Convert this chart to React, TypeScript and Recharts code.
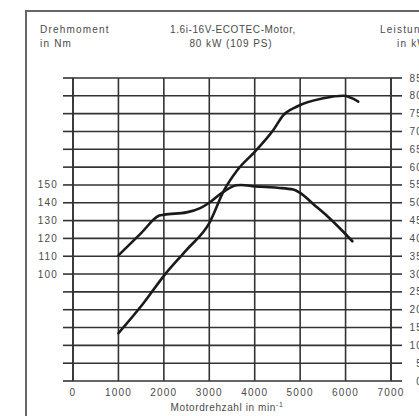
import React from "react";
import {
  ComposedChart,
  Line,
  XAxis,
  YAxis,
  CartesianGrid,
} from "recharts";

// Drehmoment (Nm) über Motordrehzahl
const torqueRpm = [1000, 1500, 1900, 2000, 2500, 2800, 3000, 3300, 3600, 3700, 4000, 4500, 4850, 5000, 5300, 5600, 5900, 6150];
const torqueNm = [110.5, 123, 132.8, 133.3, 134.6, 137, 140, 146, 149.8, 150, 149.2, 148.4, 147.4, 145.5, 139, 132.4, 125, 118.4];

// Leistung (kW) über Motordrehzahl
const powerRpm = [1000, 1550, 2000, 2500, 3000, 3330, 3620, 4000, 4410, 4630, 4930, 5510, 5950, 6280];
const powerKw = [13.4, 21.8, 29.5, 36.8, 44.3, 53.6, 59.2, 64.3, 70.4, 74.6, 77, 79.3, 80, 78.4];

const rpmTicks = [0, 1000, 2000, 3000, 4000, 5000, 6000, 7000];
const nmTicks = [40, 50, 60, 70, 80, 90, 100, 110, 120, 130, 140, 150, 160, 170, 180, 190, 200, 210];
const nmLabelled = [100, 110, 120, 130, 140, 150];
const kwTicks = [0, 5, 10, 15, 20, 25, 30, 35, 40, 45, 50, 55, 60, 65, 70, 75, 80, 85];

const torqueData = torqueRpm.map((rpm, i) => ({ rpm, nm: torqueNm[i] }));
const powerData = powerRpm.map((rpm, i) => ({ rpm, kw: powerKw[i] }));

const FONT = "'Liberation Sans', Arial, sans-serif";
const TEXT = "#4a4a4a";
const GRID = "#333";

const textStyle: React.CSSProperties = {
  position: "absolute",
  fontFamily: FONT,
  fontSize: 10,
  letterSpacing: 1.2,
  lineHeight: "12px",
  color: TEXT,
  whiteSpace: "nowrap",
};

const LeftTick = (props: any) => {
  const { x, y, payload } = props;
  if (!nmLabelled.includes(payload.value)) return null;
  return (
    <text x={x} y={y} dy="0.35em" textAnchor="end" fontFamily={FONT} fontSize={10} letterSpacing={1.2} fill={TEXT}>
      {payload.value}
    </text>
  );
};

const RightTick = (props: any) => {
  const { x, y, payload } = props;
  return (
    <text x={x + 19} y={y} dy="0.35em" textAnchor="end" fontFamily={FONT} fontSize={10} letterSpacing={1.2} fill={TEXT}>
      {payload.value}
    </text>
  );
};

const XTitle = (props: any) => {
  const { viewBox } = props;
  const cx = viewBox.x + viewBox.width / 2 - 5;
  return (
    <text x={cx} y={viewBox.y + 30} textAnchor="middle" fontFamily={FONT} fontSize={10} letterSpacing={0.6} fill={TEXT}>
      Motordrehzahl in min
      <tspan dy={-4} fontSize={7}>-1</tspan>
    </text>
  );
};

export default function App() {
  return (
    <div style={{ position: "absolute", left: 0, top: 0, width: 419, height: 416, background: "#fff", overflow: "hidden" }}>
      <div
        style={{
          position: "absolute",
          left: 25,
          top: 10,
          width: 420,
          height: 420,
          borderLeft: "2px solid #666",
          borderTop: "2px solid #666",
        }}
      />
      <div style={{ ...textStyle, left: 40, top: 24 }}>Drehmoment</div>
      <div style={{ ...textStyle, left: 40, top: 38 }}>in Nm</div>
      <div style={{ ...textStyle, left: 168, top: 24, width: 130, textAlign: "center", letterSpacing: 0.6 }}>
        1.6i-16V-ECOTEC-Motor,
      </div>
      <div style={{ ...textStyle, left: 168, top: 38, width: 126, textAlign: "center", letterSpacing: 0.9 }}>
        80 kW (109 PS)
      </div>
      <div style={{ ...textStyle, left: 380, top: 24 }}>Leistung</div>
      <div style={{ ...textStyle, left: 397, top: 38 }}>in kW</div>

      <ComposedChart
        width={419}
        height={416}
        margin={{ top: 78, right: 0, bottom: 0, left: 0 }}
        style={{ position: "absolute", left: 0, top: 0 }}
      >
        <CartesianGrid
          xAxisId="rpm"
          yAxisId="kw"
          stroke={GRID}
          strokeWidth={1.6}
          fill="none"
        />
        <XAxis
          xAxisId="rpm"
          type="number"
          dataKey="rpm"
          domain={[0, 7000]}
          ticks={rpmTicks}
          interval={0}
          allowDataOverflow
          height={35}
          tickLine={false}
          axisLine={false}
          tickMargin={2}
          tick={{ fontFamily: FONT, fontSize: 10, letterSpacing: 1.2, fill: TEXT }}
          label={<XTitle />}
        />
        <YAxis
          yAxisId="nm"
          orientation="left"
          type="number"
          domain={[40, 210]}
          ticks={nmTicks}
          interval={0}
          allowDataOverflow
          width={73}
          tickSize={10}
          tickMargin={5}
          tickLine={{ stroke: GRID, strokeWidth: 1.6 }}
          axisLine={{ stroke: GRID, strokeWidth: 1.6 }}
          tick={<LeftTick />}
        />
        <YAxis
          yAxisId="kw"
          orientation="right"
          type="number"
          domain={[0, 85]}
          ticks={kwTicks}
          interval={0}
          allowDataOverflow
          width={28}
          tickSize={11}
          tickMargin={2}
          tickLine={{ stroke: GRID, strokeWidth: 1.6 }}
          axisLine={{ stroke: GRID, strokeWidth: 1.6 }}
          tick={<RightTick />}
        />
        <Line
          xAxisId="rpm"
          yAxisId="nm"
          data={torqueData}
          dataKey="nm"
          type="monotone"
          stroke="#1a1a1a"
          strokeWidth={2.6}
          strokeLinecap="round"
          dot={false}
          activeDot={false}
          isAnimationActive={false}
        />
        <Line
          xAxisId="rpm"
          yAxisId="kw"
          data={powerData}
          dataKey="kw"
          type="monotone"
          stroke="#1a1a1a"
          strokeWidth={2.6}
          strokeLinecap="round"
          dot={false}
          activeDot={false}
          isAnimationActive={false}
        />
      </ComposedChart>
    </div>
  );
}
